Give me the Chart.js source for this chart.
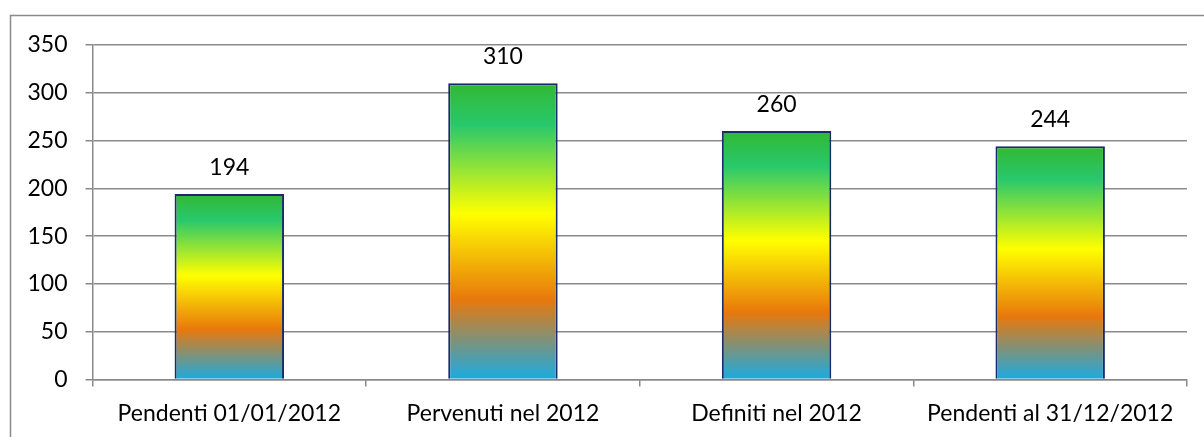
<!DOCTYPE html>
<html>
<head>
<meta charset="utf-8">
<script src="https://cdn.jsdelivr.net/npm/chart.js@4/dist/chart.umd.min.js"></script>
<style>
  html, body { margin: 0; padding: 0; background: #ffffff; }
  #wrap { width: 1204px; height: 437px; }
</style>
</head>
<body>
<div id="wrap"><canvas id="c" width="1204" height="437"></canvas></div>
<script>
// Procedimenti: pendenti, pervenuti e definiti nel 2012
const categories = ['Pendenti 01/01/2012', 'Pervenuti nel 2012', 'Definiti nel 2012', 'Pendenti al 31/12/2012'];
const values = [194, 310, 260, 244];
const yTicks = [0, 50, 100, 150, 200, 250, 300, 350];

const FONT = 'Lato';
const FONT_SIZE = 23;

// vertical colour ramp of each bar, from its base to its top
const rampStops = [
  [0.00, '#1aabe3'],
  [0.27, '#e8780c'],
  [0.56, '#ffff00'],
  [0.86, '#28c86c'],
  [1.00, '#32b832']
];

function barFill(ctx) {
  const chart = ctx.chart;
  const y = chart.scales && chart.scales.y;
  if (!y || ctx.raw === undefined) return '#e8780c';
  const base = y.getPixelForValue(0);
  const top = y.getPixelForValue(ctx.raw);
  if (!isFinite(base) || !isFinite(top) || base === top) return '#e8780c';
  const g = chart.ctx.createLinearGradient(0, base, 0, top);
  rampStops.forEach(([p, c]) => g.addColorStop(p, c));
  return g;
}

// outer frame and value labels
const decorations = {
  id: 'decorations',
  beforeDraw(chart) {
    const c = chart.ctx;
    c.save();
    c.fillStyle = '#ffffff';
    c.fillRect(0, 0, chart.width, chart.height);
    c.strokeStyle = '#8a8a8a';
    c.lineWidth = 1.5;
    c.strokeRect(10.5, 15.5, chart.width + 50, chart.height + 50);
    c.restore();
  },
  afterDatasetsDraw(chart) {
    const c = chart.ctx;
    const meta = chart.getDatasetMeta(0);
    c.save();
    c.font = FONT_SIZE + 'px ' + FONT;
    c.fillStyle = '#000000';
    c.textAlign = 'center';
    c.textBaseline = 'alphabetic';
    meta.data.forEach((bar, i) => {
      c.fillText(String(values[i]), bar.x, bar.y - 19);
    });
    c.restore();
  }
};

new Chart(document.getElementById('c'), {
  type: 'bar',
  data: {
    labels: categories,
    datasets: [{
      data: values,
      backgroundColor: barFill,
      borderColor: '#182a6a',
      borderWidth: 2,
      borderSkipped: 'start',
      barPercentage: 1.0,
      categoryPercentage: 0.4
    }]
  },
  options: {
    responsive: false,
    animation: false,
    devicePixelRatio: 1,
    layout: { padding: { left: 0, right: 17, top: 45, bottom: 0 } },
    plugins: { legend: { display: false }, tooltip: { enabled: false } },
    scales: {
      x: {
        grid: {
          display: true,
          drawOnChartArea: false,
          drawTicks: true,
          tickLength: 7,
          color: '#8a8a8a',
          lineWidth: 1.5,
          offset: true
        },
        border: { display: true, color: '#8a8a8a', width: 1.5 },
        ticks: {
          color: '#000000',
          font: { family: FONT, size: FONT_SIZE },
          padding: 13,
          maxRotation: 0,
          autoSkip: false
        },
        afterFit(scale) { scale.height = 57.5; }
      },
      y: {
        min: 0,
        max: 350,
        afterBuildTicks(scale) { scale.ticks = yTicks.map(v => ({ value: v })); },
        grid: {
          color: '#8a8a8a',
          lineWidth: 1.5,
          drawTicks: true,
          tickLength: 7
        },
        border: { display: true, color: '#8a8a8a', width: 1.5 },
        ticks: {
          color: '#000000',
          font: { family: FONT, size: FONT_SIZE },
          padding: 18
        },
        afterFit(scale) { scale.width = 92.5; }
      }
    }
  },
  plugins: [decorations]
});
</script>
</body>
</html>
